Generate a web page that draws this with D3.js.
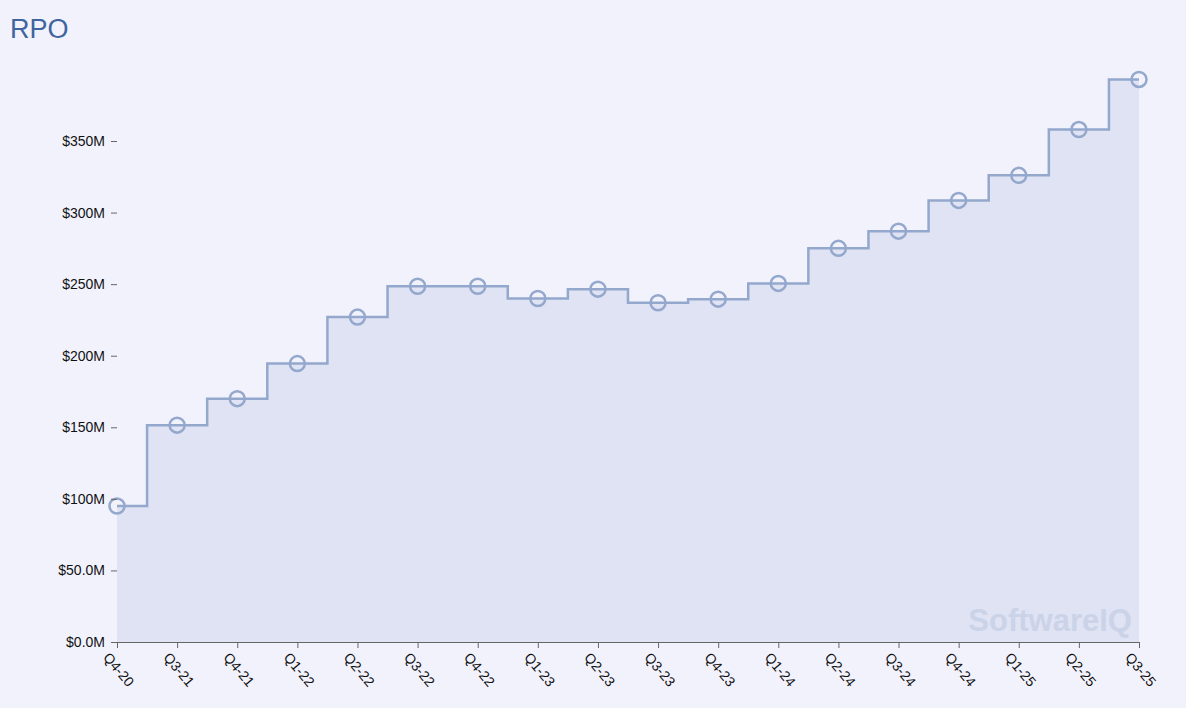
<!DOCTYPE html>
<html>
<head>
<meta charset="utf-8">
<script src="https://cdn.jsdelivr.net/npm/d3@7"></script>
<style>
  body { margin: 0; background: #f2f2fd; }
  svg { display: block; font-family: Arial, "Liberation Sans", sans-serif; }
</style>
</head>
<body>
<div id="chart"></div>
<script>
var quarters = ["Q4-20","Q3-21","Q4-21","Q1-22","Q2-22","Q3-22","Q4-22","Q1-23","Q2-23",
  "Q3-23","Q4-23","Q1-24","Q2-24","Q3-24","Q4-24","Q1-25","Q2-25","Q3-25"];
var rpo = [95, 151.5, 170, 194.5, 227, 248.5, 248.5, 240, 246.5,
  237, 239.5, 250.5, 275, 287, 308.5, 326, 358, 393];
var yTicks = [0, 50, 100, 150, 200, 250, 300, 350];

window.addEventListener('load', draw);

function draw()
{
  var svg = d3.select("#chart").append("svg")
    .attr("width", 1186)
    .attr("height", 708);

  svg.append("rect").attr("width", 1186).attr("height", 708).attr("fill", "#f2f2fd");

  var x = d3.scalePoint().domain(quarters).range([117, 1139]);
  var y = d3.scaleLinear().domain([0, 350]).range([642, 141]);

  var data = quarters.map(function(q, i) { return {q: q, v: rpo[i]}; });

  svg.append("path")
    .datum(data)
    .attr("fill", "#e0e3f3")
    .attr("d", d3.area().curve(d3.curveStep)
      .x(function(d) { return x(d.q); })
      .y0(y(0))
      .y1(function(d) { return y(d.v); }));

  // watermark
  svg.append("text")
    .attr("x", 1132).attr("y", 631)
    .attr("text-anchor", "end")
    .attr("font-size", 31).attr("font-weight", "bold")
    .attr("fill", "#cbd3e8")
    .text("SoftwareIQ");

  svg.append("path")
    .datum(data)
    .attr("fill", "none")
    .attr("stroke", "#93a8cc")
    .attr("stroke-width", 2.5)
    .attr("d", d3.line().curve(d3.curveStep)
      .x(function(d) { return x(d.q); })
      .y(function(d) { return y(d.v); }));

  svg.selectAll("circle.pt")
    .data(data)
    .enter().append("circle")
    .attr("cx", function(d) { return x(d.q); })
    .attr("cy", function(d) { return y(d.v); })
    .attr("r", 7.5)
    .attr("fill", "none")
    .attr("stroke", "#93a8cc")
    .attr("stroke-width", 2.5);

  var yAxis = svg.append("g")
    .attr("transform", "translate(117,0)")
    .call(d3.axisLeft(y).tickValues(yTicks).tickSize(6).tickPadding(6)
      .tickFormat(function(d) { return d >= 100 ? "$" + d + "M" : "$" + d.toFixed(1) + "M"; }));
  yAxis.select(".domain").remove();
  yAxis.selectAll("line").attr("stroke", "#666");
  yAxis.selectAll("text").style("font-size", "14px").attr("fill", "#111");

  var xAxis = svg.append("g")
    .attr("transform", "translate(0,642)")
    .call(d3.axisBottom(x).tickSize(6).tickSizeOuter(0));
  xAxis.select(".domain").attr("stroke", "#666");
  xAxis.selectAll("line").attr("stroke", "#666");
  xAxis.selectAll("text")
    .style("font-size", "14px").attr("fill", "#111")
    .attr("text-anchor", "start")
    .attr("dy", 0)
    .attr("transform", "translate(-8,10) rotate(50)");

  svg.append("text")
    .attr("x", 10).attr("y", 38)
    .attr("font-size", 27)
    .attr("fill", "#3f64a0")
    .text("RPO");
}
</script>
</body>
</html>
